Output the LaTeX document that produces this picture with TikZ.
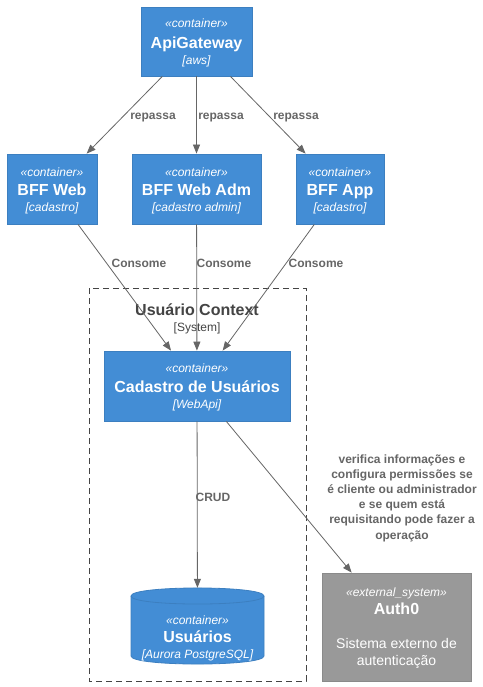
\documentclass[tikz,border=0pt]{standalone}
\usepackage{fontspec}
\setmainfont{Liberation Sans}
\usetikzlibrary{arrows.meta,calc}
\definecolor{cblue}{HTML}{438DD5}
\definecolor{cborder}{HTML}{3C7FC0}
\definecolor{cgray}{HTML}{999999}
\definecolor{cgrayb}{HTML}{8A8A8A}
\definecolor{lnk}{HTML}{666666}
\definecolor{ttl}{HTML}{444444}
\newcommand{\fs}[2]{\fontsize{#1}{#2}\selectfont}
\begin{document}
\begin{tikzpicture}[x=1pt,y=-1pt,
  cbox/.style={rectangle,fill=cblue,draw=cborder,line width=0.8pt,inner sep=0pt},
  ebox/.style={rectangle,fill=cgray,draw=cgrayb,line width=0.8pt,inner sep=0pt},
  stereo/.style={text=white,font=\fs{12}{14}\itshape,inner sep=0pt,text height=8.6pt,text depth=0pt},
  cname/.style={text=white,font=\fs{16}{18}\bfseries,inner sep=0pt,text height=11.5pt,text depth=0pt},
  tech/.style={text=white,font=\fs{12}{14}\itshape,inner sep=0pt,text height=8.6pt,text depth=0pt},
  arr/.style={draw=lnk,line width=0.8pt,-{Triangle[length=9pt,width=7pt]}},
  lbl/.style={text=lnk,font=\fs{12}{15.2}\bfseries,inner sep=0pt,align=center},
  slbl/.style={lbl,text height=8.6pt,text depth=0pt}]
\useasboundingbox (0,0) rectangle (482,687);
\fill[white] (0,0) rectangle (482,687);

% boundary
\draw[ttl,line width=0.8pt,dash pattern=on 6pt off 4pt] (89,288) rectangle (306,681);
\node[text=ttl,font=\fs{16}{18}\bfseries,inner sep=0pt,text height=11.5pt,text depth=0pt] (bt) at (197,310) {Usuário Context};
\node[text=ttl,font=\fs{12}{14},inner sep=0pt,text height=8.6pt,text depth=0pt] (bs) at (197,327) {[System]};

% containers
\node[cbox,minimum width=111pt,minimum height=69pt] (api) at (196.5,41.5) {};
\node[stereo] at (196.5,23) {«container»};
\node[cname] at (196.5,43) {ApiGateway};
\node[tech] at (196.5,60) {[aws]};

\node[cbox,minimum width=90pt,minimum height=70pt] (bffweb) at (52,189) {};
\node[stereo] at (52,172) {«container»};
\node[cname] at (52,190) {BFF Web};
\node[tech] at (52,207) {[cadastro]};

\node[cbox,minimum width=129pt,minimum height=70pt] (bffadm) at (196.5,189) {};
\node[stereo] at (196.5,172) {«container»};
\node[cname] at (196.5,190) {BFF Web Adm};
\node[tech] at (196.5,207) {[cadastro admin]};

\node[cbox,minimum width=88pt,minimum height=70pt] (bffapp) at (340,189) {};
\node[stereo] at (340,172) {«container»};
\node[cname] at (340,190) {BFF App};
\node[tech] at (340,207) {[cadastro]};

\node[cbox,minimum width=186pt,minimum height=70pt] (cad) at (197,386) {};
\node[stereo] at (197,368) {«container»};
\node[cname] at (197,387) {Cadastro de Usuários};
\node[tech] at (197,404) {[WebApi]};

% database cylinder
\node[rectangle,minimum width=133pt,minimum height=76pt,inner sep=0pt] (usu) at (197.5,626) {};
\draw[fill=cblue,draw=cborder,line width=0.8pt]
  (131,596) -- (131,656) .. controls (131,666.7) and (264,666.7) .. (264,656)
  -- (264,596) .. controls (264,585.3) and (131,585.3) .. (131,596) -- cycle;
\draw[cborder,line width=0.8pt] (131,596) .. controls (131,606.7) and (264,606.7) .. (264,596);
\node[stereo] at (197.5,620) {«container»};
\node[cname] at (197.5,637) {Usuários};
\node[tech] at (197.5,654) {[Aurora PostgreSQL]};

% external system
\node[ebox,minimum width=149pt,minimum height=108pt] (auth) at (396.5,627) {};
\node[stereo] at (396.5,592) {«external\_system»};
\node[cname] at (396.5,609) {Auth0};
\node[text=white,font=\fs{14}{17},inner sep=0pt,align=center] at (396.5,653.5) {Sistema externo de\\autenticação};

% connectors
\draw[arr] (api) -- (bffweb);
\draw[arr] (api) -- (bffadm);
\draw[arr] (api) -- (bffapp);
\draw[arr] (bffweb) -- (cad);
\draw[arr] (bffadm) -- (cad);
\draw[arr] (bffapp) -- (cad);
\draw[arr] (cad) -- (usu);
\draw[arr] (cad) -- (auth);

% labels
\node[slbl] at (153,115) {repassa};
\node[slbl] at (221,115) {repassa};
\node[slbl] at (296,115) {repassa};
\node[slbl] at (139,263) {Consome};
\node[slbl] at (224,263) {Consome};
\node[slbl] at (316,263) {Consome};
\node[slbl] at (213,497) {CRUD};
\node[lbl] at (402,498) {verifica informações e\\configura permissões se\\é cliente ou administrador\\e se quem está\\requisitando pode fazer a\\operação};
\end{tikzpicture}
\end{document}
